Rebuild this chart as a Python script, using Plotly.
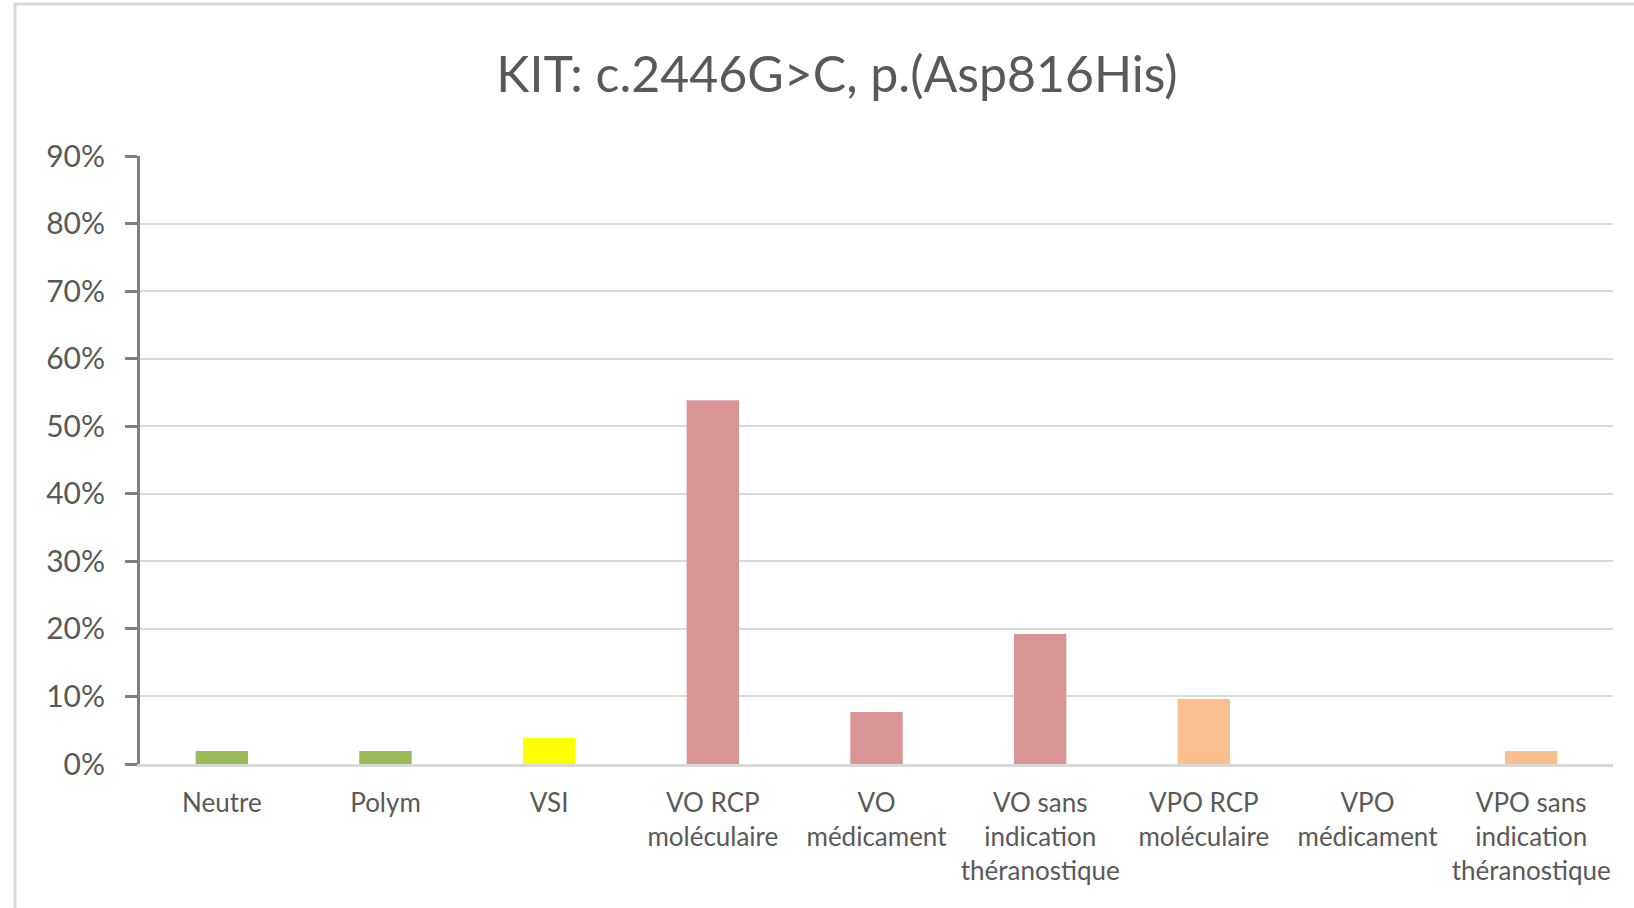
import plotly.graph_objects as go

# Category labels (x axis), share of each classification, bar colours
categories = [
    "Neutre",
    "Polym",
    "VSI",
    "VO RCP<br>moléculaire",
    "VO<br>médicament",
    "VO sans<br>indication<br>théranostique",
    "VPO RCP<br>moléculaire",
    "VPO<br>médicament",
    "VPO sans<br>indication<br>théranostique",
]
shares = [1 / 52, 1 / 52, 2 / 52, 28 / 52, 4 / 52, 10 / 52, 5 / 52, 0.0, 1 / 52]
bar_colors = [
    "#9BBB59", "#9BBB59", "#FFFF00",
    "#D99594", "#D99594", "#D99594",
    "#FABF8F", "#FABF8F", "#FABF8F",
]
y_ticks = [i / 10 for i in range(10)]

FONT = "Lato"
TEXT = "#595959"

fig = go.Figure(
    go.Bar(
        x=categories,
        y=shares,
        marker=dict(color=bar_colors, line=dict(width=0)),
        hoverinfo="x+y",
    )
)

W, H = 1634, 908
L, R, T, B = 140, 21, 156, 144

fig.update_layout(
    width=W,
    height=H,
    margin=dict(l=L, r=R, t=T, b=B, pad=0),
    paper_bgcolor="white",
    plot_bgcolor="white",
    bargap=0.68,
    showlegend=False,
    title=dict(
        text="KIT: c.2446G>C, p.(Asp816His)",
        x=837 / W,
        xanchor="center",
        y=1 - 74 / H,
        yanchor="middle",
        font=dict(family=FONT, size=50, color=TEXT),
    ),
    font=dict(family=FONT, color=TEXT),
)

fig.update_xaxes(
    showgrid=False,
    showline=True,
    linecolor="#D9D9D9",
    linewidth=3,
    ticks="outside",
    ticklen=14,
    tickcolor="rgba(0,0,0,0)",
    tickfont=dict(family=FONT, size=26, color=TEXT),
    tickangle=0,
)

fig.update_yaxes(
    range=[0, 0.9],
    tickvals=y_ticks,
    tickformat=".0%",
    showgrid=True,
    gridcolor="#D9D9D9",
    gridwidth=2,
    showline=True,
    linecolor="#7F7F7F",
    linewidth=3,
    ticks="outside",
    ticklen=12,
    tickwidth=3,
    tickcolor="#7F7F7F",
    ticklabelstandoff=14,
    tickfont=dict(family=FONT, size=30, color=TEXT),
    zeroline=False,
)

# light grey frame around the chart area
fig.add_shape(
    type="rect",
    xref="paper", yref="paper",
    x0=(15 - L) / (W - L - R), x1=(W + 10 - L) / (W - L - R),
    y0=-(B + 10) / (H - T - B), y1=1 + (T - 4) / (H - T - B),
    line=dict(color="#D9D9D9", width=3),
    fillcolor="rgba(0,0,0,0)",
    layer="below",
)

fig.write_html("out.html")
